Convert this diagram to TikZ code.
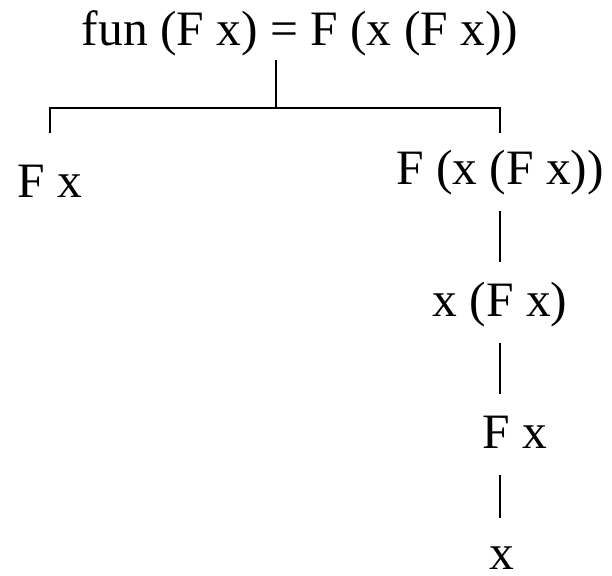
\documentclass[tikz,border=0pt]{standalone}
\usepackage{fontspec}
\setmainfont{Liberation Serif}
\usepackage{tikz}

\begin{document}
\begin{tikzpicture}[x=1pt, y=1pt, line width=1.6pt,
    term/.style={font=\fontsize{49.5}{59}\selectfont, inner sep=0pt,
      text height=34pt, text depth=10pt, anchor=base},
    link/.style={shorten <=16pt, shorten >=19pt}]
        \useasboundingbox (0,0) rectangle (612,-575);

        % Lygtis virsuje
        \node[term] (top) at (300,-46) {fun (F x) = F (x (F x))};

        % Saka
        \coordinate (fork) at (276,-108);
        \coordinate (drop) at (0,-133);
        \node[term] (lhs) at (50,-197) {F x};
        \node[term] (rhs) at (500,-184) {F (x (F x))};
        \draw[shorten <=3pt] (fork |- top.south) -- (fork);
        \draw (lhs |- drop) |- (fork) -| (rhs |- drop);

        % Grandine zemyn
        \node[term] (xfx) at (500,-316) {x (F x)};
        \node[term] (fx) at (514.5,-448) {F x};
        \node[term, text depth=0pt] (leaf) at (501.5,-569) {x};
        \draw[link] (rhs.south) -- (xfx.north);
        \draw[link] (xfx.south) -- (xfx.south |- fx.north);
        \draw[link, shorten >=16pt] (xfx.south |- fx.south) -- (xfx.south |- leaf.north);
    \end{tikzpicture}
\end{document}
